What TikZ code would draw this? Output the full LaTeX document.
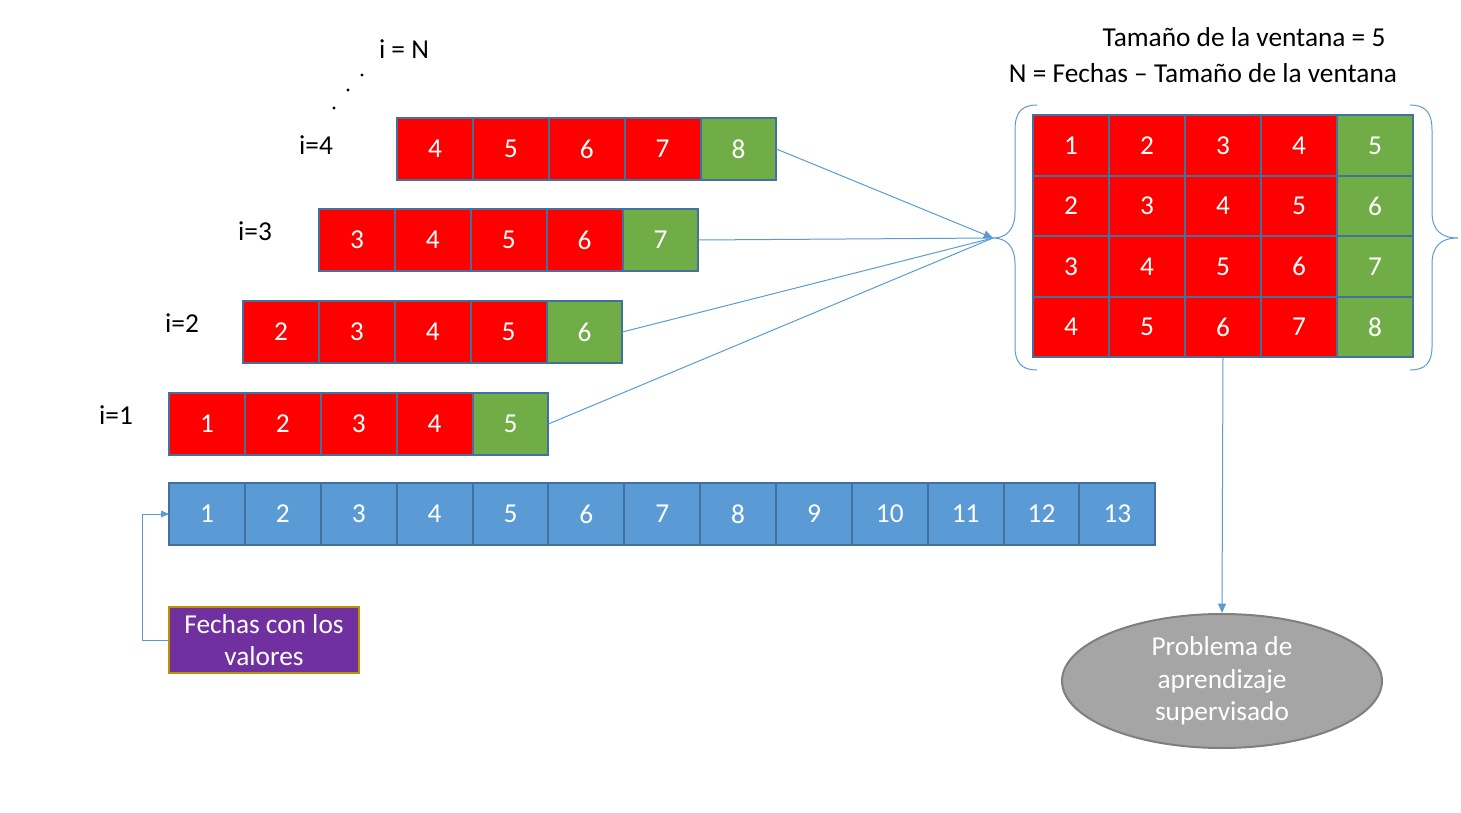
\documentclass[tikz,border=0pt]{standalone}
\usepackage{fontspec}
\setmainfont{Carlito}
\usetikzlibrary{positioning,shapes.geometric,arrows.meta}

\definecolor{cellred}{HTML}{FF0000}
\definecolor{cellgreen}{HTML}{70AD47}
\definecolor{cellblue}{HTML}{5B9BD5}
\definecolor{cellline}{HTML}{41719C}
\definecolor{boxpurple}{HTML}{7030A0}
\definecolor{boxgold}{HTML}{BF9000}
\definecolor{ellgray}{HTML}{A5A5A5}
\definecolor{ellline}{HTML}{7F7F7F}

\tikzset{
	cell/.style={draw=cellline,line width=1.5pt,minimum width=56.9pt,minimum height=46.5pt,
		inner sep=0pt,outer sep=0pt,text=white},
	redcell/.style={cell,fill=cellred},
	greencell/.style={cell,fill=cellgreen},
	bluecell/.style={cell,fill=cellblue},
	link/.style={draw=cellblue,line width=0.75pt},
	tag/.style={text=black,inner sep=0pt}
}

\begin{document}
\begin{tikzpicture}[x=0.75pt,y=-0.75pt,node distance=56.9pt,on grid,
	font=\fontsize{20.5}{24.4}\selectfont]
	\useasboundingbox (0,0) rectangle (1461,813);

	% fechas
	\node[bluecell] (b1) at (207,514) {1};
	\foreach \j [evaluate=\j as \p using int(\j-1)] in {2,...,13}
		\node[bluecell,right=of b\p] (b\j) {\j};

	% ventanas
	\foreach \i/\x/\y/\lx/\ly in {1/207/424/116/415, 2/281/332/182/323,
		3/357/240/255/231, 4/435/149/316/145} {
		\node[tag] (lab\i) at (\lx,\ly) {i=\i};
		\node[redcell] (w\i-1) at (\x,\y) {\i};
		\foreach \j [evaluate=\j as \p using int(\j-1),
			evaluate=\j as \v using int(\i+\j-1)] in {2,...,4}
			\node[redcell,right=of w\i-\p] (w\i-\j) {\v};
		\pgfmathtruncatemacro{\g}{\i+4}
		\node[greencell,right=of w\i-4] (w\i-5) {\g};
	}
	\node[tag] (labN) at (404,49) {i = N};
	\foreach \x/\y [count=\k] in {334/108, 348/90, 362/75}
		\fill (\x,\y) circle (1.2pt) coordinate (dot\k);

	% matriz
	\foreach \r in {1,...,4}
		\foreach \c in {1,...,5} {
			\pgfmathtruncatemacro{\v}{\r+\c-1}
			\ifnum\c=5 \def\sty{greencell}\else\def\sty{redcell}\fi
			\node[\sty,minimum height=45.4pt] (m\r-\c) at ({1071+(\c-1)*76},{145.5+(\r-1)*60.5}) {\v};
		}

	\node[tag] (title1) at (1244,37) {Tamaño de la ventana = 5};
	\node[tag] (title2) at (1203,73) {N = Fechas -- Tamaño de la ventana};

	% llaves
	\coordinate (tip) at (993,238);
	\draw[link] (1037,105) .. controls (1022,105) and (1015,112) .. (1015,130) -- (1015,212)
		.. controls (1015,230) and (1006,238) .. (tip)
		.. controls (1006,238) and (1015,246) .. (1015,264) -- (1015,347)
		.. controls (1015,363) and (1022,370) .. (1037,370);
	\draw[link] (1410,105) .. controls (1425,105) and (1432,112) .. (1432,130) -- (1432,212)
		.. controls (1432,230) and (1441,238) .. (1458,238)
		.. controls (1441,238) and (1432,246) .. (1432,264) -- (1432,347)
		.. controls (1432,363) and (1425,370) .. (1410,370);

	\foreach \i in {1,2,3}
		\draw[link] (w\i-5.east) -- (tip);
	\draw[link,-{Triangle[length=7pt,width=6pt]}] (w4-5.east) -- (tip);

	% problema
	\node[ellipse,draw=ellline,line width=1.5pt,fill=ellgray,text=white,
		minimum width=240pt,minimum height=100.5pt,align=center,inner sep=0pt]
		(prob) at (1222,681) {Problema de\\aprendizaje\\supervisado};
	\draw[link,-{Triangle[length=7pt,width=6pt]}] (m4-3.south) -- (prob.north);

	% fechas con los valores
	\node[draw=boxgold,line width=1.5pt,fill=boxpurple,text=white,minimum width=142.5pt,
		minimum height=50pt,align=center,inner sep=0pt] (fechas) at (264,640)
		{Fechas con los\\valores};
	\draw[link,-{Triangle[length=6pt,width=5pt]}] (fechas.west) -- ++(-26,0) |- (b1.west);
\end{tikzpicture}
\end{document}
